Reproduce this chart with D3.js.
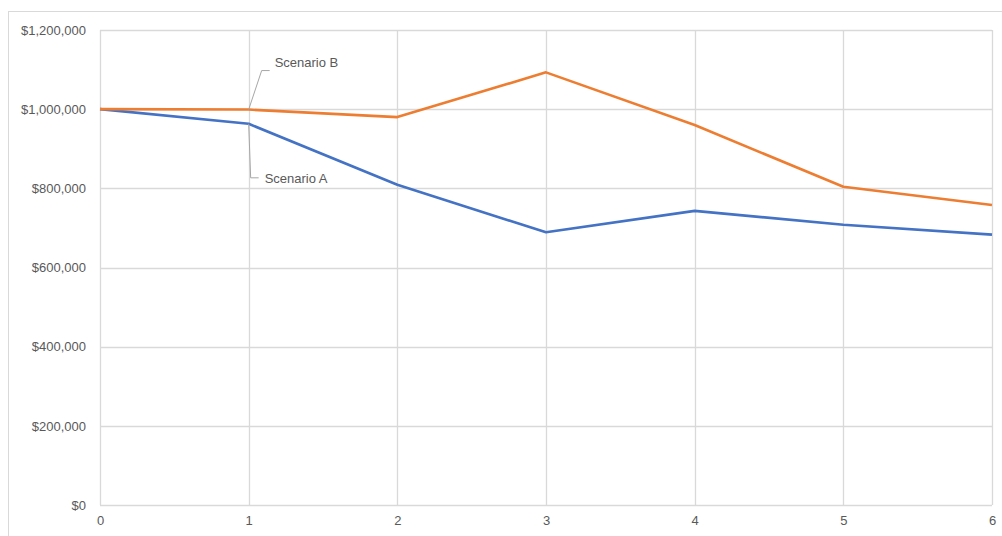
<!DOCTYPE html>
<html>
<head>
<meta charset="utf-8">
<script src="https://cdn.jsdelivr.net/npm/d3@7"></script>
<style>
  html, body { margin: 0; padding: 0; background: #fff; }
  svg text { font-family: "Liberation Sans", Arial, sans-serif; fill: #595959; }
</style>
</head>
<body>
<div id="area"></div>
<script>
var width = 1002,
    height = 536;

// data
var periods = [0, 1, 2, 3, 4, 5, 6];
var scenarioA = [1000000, 963000, 809000, 689000, 743000, 708000, 683000];
var scenarioB = [1000000, 999000, 980000, 1093000, 960000, 804000, 758000];
var yTicks = [0, 200000, 400000, 600000, 800000, 1000000, 1200000];

var blue_color = '#4472C4',
    orange_color = '#ED7D31',
    grid_color = '#D9D9D9',
    leader_color = '#A6A6A6';

var margin = {left: 100, right: 10, top: 30, bottom: 31};

var svg = d3.select('#area').append('svg')
    .attr('width', width)
    .attr('height', height);

// chart border (runs off the picture at right and bottom)
svg.append('rect')
    .attr('x', 8.5).attr('y', 11.5)
    .attr('width', width + 20).attr('height', height + 20)
    .attr('fill', 'none')
    .attr('stroke', grid_color);

var x = d3.scaleLinear().domain([0, 6]).range([margin.left, width - margin.right]);
var y = d3.scaleLinear().domain([0, 1200000]).range([height - margin.bottom, margin.top]);

var grid = svg.append('g');

// horizontal gridlines
grid.selectAll('line.h')
    .data(yTicks)
    .enter().append('line')
    .attr('class', 'h')
    .attr('x1', x(0)).attr('x2', x(6))
    .attr('y1', function(d) { return Math.round(y(d)) + 0.5; })
    .attr('y2', function(d) { return Math.round(y(d)) + 0.5; })
    .attr('stroke', grid_color)
    .attr('stroke-width', 1.3);

// vertical gridlines
grid.selectAll('line.v')
    .data(periods)
    .enter().append('line')
    .attr('class', 'v')
    .attr('y1', y(0)).attr('y2', y(1200000))
    .attr('x1', function(d) { return Math.round(x(d)) + 0.5; })
    .attr('x2', function(d) { return Math.round(x(d)) + 0.5; })
    .attr('stroke', grid_color)
    .attr('stroke-width', 1.3);

// y axis labels
var yAxis = d3.axisLeft(y)
    .tickValues(yTicks)
    .tickSize(0)
    .tickPadding(14)
    .tickFormat(function(d) { return '$' + d3.format(',')(d); });

svg.append('g')
    .attr('transform', 'translate(' + x(0) + ',0)')
    .call(yAxis)
    .call(function(g) { g.select('.domain').remove(); })
    .selectAll('text')
    .attr('font-size', '13px')
    .style('font-family', '"Liberation Sans", Arial, sans-serif')
    .attr('fill', '#595959');

// x axis labels
var xAxis = d3.axisBottom(x)
    .tickValues(periods)
    .tickSize(0)
    .tickPadding(11)
    .tickFormat(d3.format('d'));

svg.append('g')
    .attr('transform', 'translate(0,' + y(0) + ')')
    .call(xAxis)
    .call(function(g) { g.select('.domain').remove(); })
    .selectAll('text')
    .attr('font-size', '13px')
    .style('font-family', '"Liberation Sans", Arial, sans-serif')
    .attr('fill', '#595959');

// series lines
var line = d3.line()
    .x(function(d, i) { return x(periods[i]); })
    .y(function(d) { return y(d); });

svg.append('path')
    .datum(scenarioA)
    .attr('d', line)
    .attr('fill', 'none')
    .attr('stroke', blue_color)
    .attr('stroke-width', 2.6)
    .attr('stroke-linejoin', 'round');

svg.append('path')
    .datum(scenarioB)
    .attr('d', line)
    .attr('fill', 'none')
    .attr('stroke', orange_color)
    .attr('stroke-width', 2.6)
    .attr('stroke-linejoin', 'round');

// data labels with leader lines at period 1
var labels = [
  {name: 'Scenario B', value: scenarioB[1], dx: 13, dy: -39, tx: 26, ty: -47},
  {name: 'Scenario A', value: scenarioA[1], dx: 2, dy: 54, tx: 16, ty: 55}
];

labels.forEach(function(l) {
  var px = x(periods[1]), py = y(l.value);
  var ex = px + l.dx, ey = y(l.value) + l.dy;
  svg.append('polyline')
      .attr('points', [[px, py], [ex, ey], [ex + 8, ey]].map(function(p) { return p.join(','); }).join(' '))
      .attr('fill', 'none')
      .attr('stroke', leader_color)
      .attr('stroke-width', 1);
  svg.append('text')
      .attr('x', px + l.tx)
      .attr('y', py + l.ty)
      .attr('dy', '0.35em')
      .attr('font-size', '13px')
      .text(l.name);
});
</script>
</body>
</html>
